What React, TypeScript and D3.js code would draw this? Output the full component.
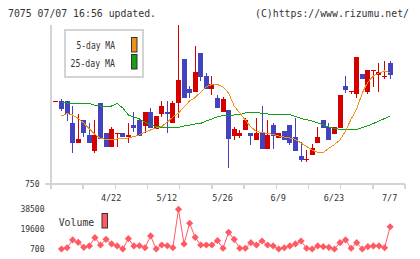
import React from "react";
import * as d3 from "d3";

// Daily candles: 7/7 is the last bar
const opens = [833, 833, 833, 811, 791, 814, 799, 783, 831, 801, 787, 801, 801, 797, 809, 814, 808, 822, 805, 820, 822, 811, 831, 875, 845, 842, 881, 858, 845, 836, 822, 824, 798, 798, 804, 801, 794, 801, 785, 809, 796, 803, 809, 797, 778, 775, 779, 791, 814, 807, 800, 806, 848, 843, 840, 860, 842, 864, 859, 858, 871];
const highs = [833, 835, 833, 828, 820, 814, 811, 814, 831, 801, 807, 801, 801, 811, 822, 816, 822, 826, 818, 833, 833, 833, 909, 875, 848, 888, 881, 861, 858, 839, 837, 824, 807, 804, 816, 801, 816, 828, 814, 811, 801, 803, 809, 816, 792, 784, 790, 807, 814, 811, 807, 839, 858, 843, 877, 860, 864, 864, 871, 873, 873];
const lows = [833, 823, 813, 781, 791, 797, 791, 781, 795, 787, 787, 787, 797, 791, 802, 798, 801, 806, 805, 817, 801, 811, 816, 836, 836, 842, 853, 845, 839, 826, 822, 766, 794, 796, 804, 789, 794, 785, 785, 785, 796, 794, 789, 783, 772, 772, 779, 791, 806, 794, 800, 806, 841, 840, 836, 855, 840, 847, 842, 855, 855];
const closes = [833, 825, 820, 791, 795, 801, 791, 799, 795, 787, 805, 801, 797, 799, 806, 798, 822, 806, 818, 828, 820, 831, 854, 836, 841, 862, 857, 845, 850, 826, 835, 795, 805, 801, 814, 798, 801, 785, 799, 798, 801, 794, 791, 783, 774, 775, 786, 797, 806, 794, 807, 839, 844, 843, 877, 855, 864, 864, 862, 858, 859];

// Moving averages (first bar has none)
const ma5 = [null, 818, 820.5, 819, 815.5, 811, 805, 799.5, 795.7, 794.7, 794.7, 795, 795.5, 796, 797.5, 799, 802, 804, 806, 807.5, 812, 817, 821, 827, 833, 836.5, 842, 847.5, 849.5, 849.5, 847, 841, 828, 821, 814, 807, 802.5, 801.3, 800.7, 799.5, 798, 797, 796, 794.5, 791, 787.5, 784, 781.7, 781.7, 785.7, 789.5, 794, 803, 815, 825, 841, 852, 858, 861, 863, 861.5];
const ma25 = [null, 831.3, 831, 831, 831, 831, 830.7, 828.5, 828, 828, 828, 830.5, 826, 819, 817, 815, 812, 809, 807.5, 806.7, 806.7, 806.7, 806.7, 808, 809, 810, 810.7, 813, 815, 817.3, 818.5, 819, 819, 819.5, 821, 821.7, 821.7, 820.5, 820, 820, 820, 819.7, 819.5, 817.5, 815.5, 814.3, 813, 811.2, 809, 807, 805.5, 804.7, 804.7, 804.7, 804.7, 806.5, 808.3, 810.5, 813, 815.5, 818];

// Volume (shares)
const volumes = [null, 700, 1900, 9300, 7100, 2300, 3600, 11500, 4500, 9900, 5500, 3600, 800, 10500, 3600, 3800, 1900, 13100, 800, 4500, 3800, 1900, 38500, 5500, 25200, 11800, 4500, 4500, 4500, 8600, 1400, 16600, 9900, 1400, 1400, 6700, 4500, 8300, 4500, 3600, 700, 1900, 3600, 5500, 8300, 1400, 700, 3600, 2900, 2300, 700, 6700, 9300, 1400, 6700, 700, 2900, 3600, 3600, 1900, 21900];

const dateLabels = ["4/22", "5/12", "5/26", "6/9", "6/23", "7/7"];
const dateBars = [10, 20, 30, 40, 50, 60];
const priceLabels = [750];
const volumeLabels = [700, 19600, 38500];

const UP = "#d40000";
const DOWN = "#4343c0";
const ORANGE = "#f0901a";
const GREEN = "#14a014";
const VOL = "#ff5a64";
const GRID = "#d4d4d4";
const TEXT = "#333333";
const FONT = "'DejaVu Sans Mono', monospace";

export default function App() {
  const n = closes.length;
  const x = d3.scaleLinear().domain([0, n - 1]).range([55.93, 390.13]);
  const y = d3.scaleLinear().domain([750, 909]).range([184, 25]);
  const yv = d3.scaleLinear().domain([700, 38500]).range([249, 209.3]);
  const grid = d3.scaleLinear().domain([0, 11]).range([51, 405]);

  const maLine = d3
    .line<number | null>()
    .defined((d) => d != null)
    .x((_, i) => x(i))
    .y((d) => y(d as number));

  const volLine = d3
    .line<number | null>()
    .defined((d) => d != null)
    .x((_, i) => x(i))
    .y((d) => yv(d as number));

  const diamond = d3.symbol().type(d3.symbolSquare).size(26)();

  return (
    <svg
      width={420}
      height={259}
      viewBox="0 0 420 259"
      style={{ position: "absolute", left: 0, top: 0, background: "#fff" }}
    >
      <defs>
        <clipPath id="plot">
          <rect x={51} y={25} width={354} height={159} />
        </clipPath>
      </defs>
      <rect x={0} y={0} width={420} height={259} fill="#fff" />

      {/* header */}
      <text x={8} y={16.5} fontFamily={FONT} fontSize={10} fill={TEXT} textLength={148} lengthAdjust="spacingAndGlyphs">
        7075 07/07 16:56 updated.
      </text>
      <text x={409} y={16.5} textAnchor="end" fontFamily={FONT} fontSize={9.8} fill={TEXT} textLength={154} lengthAdjust="spacingAndGlyphs">
        (C)https://www.rizumu.net/
      </text>

      {/* axes */}
      <g shapeRendering="crispEdges" stroke={GRID} strokeWidth={1.5}>
        <line x1={51} x2={51} y1={25} y2={189} />
        <line x1={45} x2={405} y1={184} y2={184} />
        {d3.range(1, 12).map((t) => (
          <line key={t} x1={grid(t)} x2={grid(t)} y1={184} y2={189} />
        ))}
      </g>
      {priceLabels.map((p) => (
        <text key={p} x={39.5} y={y(p) + 2.8} textAnchor="end" fontFamily={FONT} fontSize={8} fill={TEXT}>
          {p}
        </text>
      ))}
      {dateLabels.map((d, k) => (
        <text key={d} x={x(dateBars[k]) - 0.5} y={200.5} textAnchor="middle" fontFamily={FONT} fontSize={8.5} fill={TEXT}>
          {d}
        </text>
      ))}

      {/* candles */}
      <g clipPath="url(#plot)" shapeRendering="crispEdges">
        {closes.map((c, i) => {
          const o = opens[i];
          const color = c >= o ? UP : DOWN;
          const x0 = Math.round(x(i) - 2.5);
          const top = y(Math.max(o, c));
          const bot = y(Math.min(o, c));
          return (
            <g key={i}>
              <line x1={x0 + 2.5} x2={x0 + 2.5} y1={y(highs[i])} y2={y(lows[i])} stroke={color} strokeWidth={1} />
              <rect x={x0} y={top} width={5} height={Math.max(1, bot - top)} fill={color} />
            </g>
          );
        })}
      </g>

      {/* moving averages */}
      <g clipPath="url(#plot)" fill="none" strokeWidth={1} shapeRendering="crispEdges">
        <path d={maLine(ma25) || ""} stroke={GREEN} />
        <path d={maLine(ma5) || ""} stroke={ORANGE} />
      </g>

      {/* legend */}
      <rect x={65} y={30} width={78} height={47} fill="#fff" stroke={GRID} strokeWidth={1.5} shapeRendering="crispEdges" />
      <text x={115} y={49.3} textAnchor="end" fontFamily={FONT} fontSize={10.5} fill={TEXT} textLength={38.5} lengthAdjust="spacingAndGlyphs">
        5-day MA
      </text>
      <text x={115} y={66.7} textAnchor="end" fontFamily={FONT} fontSize={10.5} fill={TEXT} textLength={44.5} lengthAdjust="spacingAndGlyphs">
        25-day MA
      </text>
      <rect x={131.5} y={37.5} width={5.5} height={14.5} fill={ORANGE} stroke="#333" strokeWidth={1} />
      <rect x={131.5} y={54.5} width={5.5} height={14.5} fill={GREEN} stroke="#333" strokeWidth={1} />

      {/* volume */}
      {volumeLabels.map((v) => (
        <text key={v} x={44.5} y={yv(v) + 2.8} textAnchor="end" fontFamily={FONT} fontSize={8} fill={TEXT}>
          {v}
        </text>
      ))}
      <text x={58.7} y={225.7} fontFamily={FONT} fontSize={11} fill={TEXT} textLength={35.6} lengthAdjust="spacingAndGlyphs">
        Volume
      </text>
      <rect x={102} y={213.5} width={5.5} height={14.5} fill={VOL} stroke="#333" strokeWidth={1} />
      <path d={volLine(volumes) || ""} fill="none" stroke={VOL} strokeWidth={1} />
      {volumes.map((v, i) =>
        v == null ? null : (
          <path key={i} d={diamond || ""} transform={`translate(${x(i)},${yv(v)}) rotate(45)`} fill={VOL} />
        )
      )}
    </svg>
  );
}
